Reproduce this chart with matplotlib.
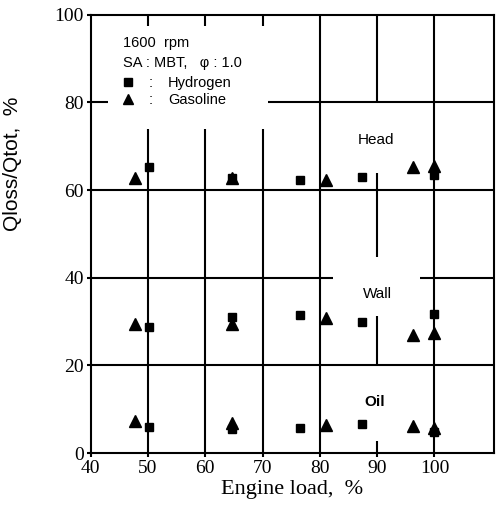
import numpy as np
import matplotlib
matplotlib.use("Agg")
import matplotlib.pyplot as plt

# engine load (%) and heat loss share Qloss/Qtot (%)
h2_load = [50.2, 64.6, 76.5, 87.3, 100.0]
h2_head = [65.3, 62.8, 62.4, 62.9, 63.4]
h2_wall = [28.7, 31.1, 31.4, 29.8, 31.7]
h2_oil = [5.9, 5.4, 5.8, 6.6, 4.7]

gas_load = [47.8, 64.6, 81.1, 96.3, 100.0]
gas_head = [62.8, 62.8, 62.4, 65.3, 65.6]
gas_wall = [29.5, 29.5, 30.7, 26.9, 27.3]
gas_oil = [7.4, 6.8, 6.5, 6.1, 5.8]

xticks = [40, 50, 60, 70, 80, 90, 100]
yticks = [0, 20, 40, 60, 80, 100]

serif = ['Liberation Serif', 'DejaVu Serif']
sans = ['Liberation Sans', 'DejaVu Sans']

fig = plt.figure(figsize=(4.98, 5.11), dpi=100)
ax = fig.add_axes([0.182, 0.1135, 0.809, 0.8575])
ax.set_xlim(40, 110.3)
ax.set_ylim(0, 100)

lw = 1.5
# grid, drawn by hand because the original has gaps round the labels
ax.hlines(20, 40, 110.3, color='black', lw=lw)
ax.hlines(60, 40, 110.3, color='black', lw=lw)
ax.hlines(40, 40, 82.3, color='black', lw=lw)
ax.hlines(40, 97.5, 110.3, color='black', lw=lw)
ax.hlines(80, 40, 43.0, color='black', lw=lw)
ax.hlines(80, 70.9, 110.3, color='black', lw=lw)
for xv in [50, 60, 70]:
    ax.vlines(xv, 0, 74, color='black', lw=lw)
ax.vlines(80, 0, 100, color='black', lw=lw)
ax.vlines(100, 0, 100, color='black', lw=lw)
ax.vlines(90, 20, 31.3, color='black', lw=lw)
ax.vlines(90, 44.8, 64, color='black', lw=lw)
ax.vlines(90, 80, 100, color='black', lw=lw)
ax.vlines(90, 0, 2.8, color='black', lw=lw)
for xv in [50, 60, 70]:
    ax.vlines(xv, 97.5, 100, color='black', lw=lw)

for load, vals in [(h2_load, h2_head), (h2_load, h2_wall), (h2_load, h2_oil)]:
    ax.plot(load, vals, ls='none', marker='s', ms=6, color='black', zorder=5)
for load, vals in [(gas_load, gas_head), (gas_load, gas_wall), (gas_load, gas_oil)]:
    ax.plot(load, vals, ls='none', marker='^', ms=8, color='black', zorder=5)

ax.text(89.8, 71.5, 'Head', ha='center', va='center', fontsize=11, family=sans)
ax.text(90.0, 36.3, 'Wall', ha='center', va='center', fontsize=11, family=sans)
ax.text(89.6, 11.6, 'Oil', ha='center', va='center', fontsize=11, family=sans, weight='bold')

# legend block
ax.text(45.6, 93.5, '1600  rpm', ha='left', va='center', fontsize=10.5, family=sans)
ax.text(45.6, 89.1, 'SA : MBT,   φ : 1.0', ha='left', va='center', fontsize=10.5, family=sans)
ax.plot([46.5], [84.6], ls='none', marker='s', ms=6, color='black')
ax.text(50.2, 84.5, ':', ha='left', va='center', fontsize=10.5, family=sans)
ax.text(53.5, 84.5, 'Hydrogen', ha='left', va='center', fontsize=10.5, family=sans)
ax.plot([46.5], [80.8], ls='none', marker='^', ms=7, color='black')
ax.text(50.2, 80.6, ':', ha='left', va='center', fontsize=10.5, family=sans)
ax.text(53.5, 80.6, 'Gasoline', ha='left', va='center', fontsize=10.5, family=sans)

ax.set_xticks(xticks)
ax.set_yticks(yticks)
ax.set_xticklabels([str(v) for v in xticks], fontsize=14, family=serif)
ax.set_yticklabels([str(v) for v in yticks], fontsize=14, family=serif)
ax.tick_params(direction='out', length=3, width=lw, pad=2)
for s in ax.spines.values():
    s.set_linewidth(lw)

ax.set_xlabel('Engine load,  %', fontsize=16, family=serif, labelpad=2)
ax.set_ylabel('Qloss/Qtot,  %', fontsize=15, family=sans)
ax.yaxis.set_label_coords(-0.17, 0.66)

fig.savefig('out.png', dpi=100)
